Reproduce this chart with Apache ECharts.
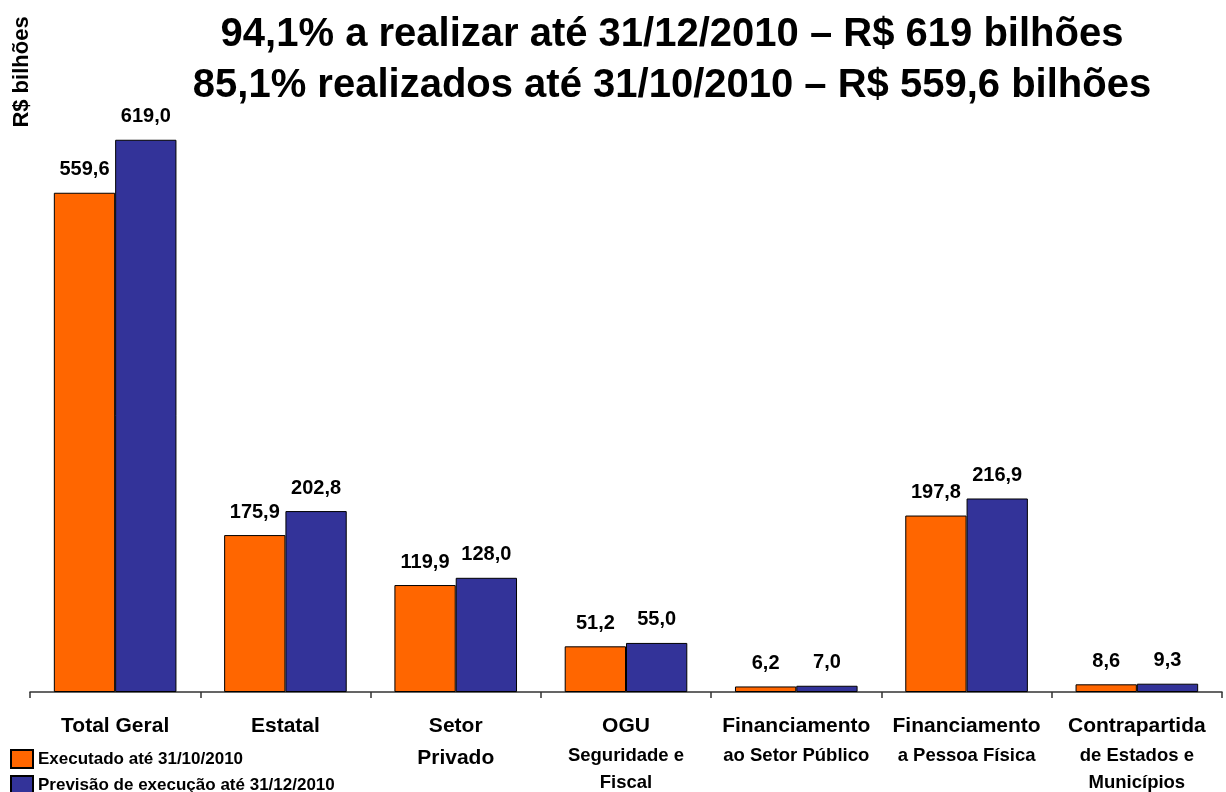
<!DOCTYPE html>
<html>
<head>
<meta charset="utf-8">
<script src="https://cdn.jsdelivr.net/npm/echarts@6/dist/echarts.min.js"></script>
<style>
  html, body { margin: 0; padding: 0; background: #fff; }
  #chart { width: 1226px; height: 792px; }
</style>
</head>
<body>
<div id="chart"></div>
<script>
// categories: main line (large) and sub line (small)
const catMain = ['Total Geral', 'Estatal', 'Setor\nPrivado', 'OGU', 'Financiamento', 'Financiamento', 'Contrapartida'];
const catSub = ['', '', '', 'Seguridade e\nFiscal', 'ao Setor Público', 'a Pessoa Física', 'de Estados e\nMunicípios'];

const executado = [559.6, 175.9, 119.9, 51.2, 6.2, 197.8, 8.6];
const previsao = [619.0, 202.8, 128.0, 55.0, 7.0, 216.9, 9.3];

const seriesNames = ['Executado até 31/10/2010', 'Previsão de execução até 31/12/2010'];
const titleLines = [
  '94,1% a realizar até 31/12/2010 – R$ 619 bilhões',
  '85,1% realizados até 31/10/2010 – R$ 559,6 bilhões'
];

const FONT = "'Liberation Sans', Arial, sans-serif";

const chart = echarts.init(document.getElementById('chart'), null, { renderer: 'canvas' });

const fmtNum = v => v.toFixed(1).replace('.', ',');

const barLabel = {
  show: true,
  position: 'top',
  distance: 13,
  fontFamily: FONT,
  fontWeight: 'bold',
  fontSize: 20,
  color: '#000',
  formatter: p => fmtNum(p.value)
};

chart.setOption({
  animation: false,
  title: {
    text: titleLines.join('\n'),
    left: 672,
    top: 9,
    textAlign: 'center',
    padding: 0,
    textStyle: {
      fontFamily: FONT,
      fontWeight: 'bold',
      fontSize: 40,
      lineHeight: 51,
      color: '#000'
    }
  },
  graphic: [{
    type: 'text',
    x: 22,
    y: 72,
    rotation: Math.PI / 2,
    style: {
      text: 'R$ bilhões',
      fontFamily: FONT,
      fontWeight: 'bold',
      fontSize: 22,
      fill: '#000',
      align: 'center',
      verticalAlign: 'middle'
    }
  }],
  legend: {
    left: 10,
    top: 749,
    height: 60,
    orient: 'vertical',
    itemWidth: 22,
    itemHeight: 18,
    itemGap: 6,
    icon: 'rect',
    padding: 0,
    textStyle: {
      fontFamily: FONT,
      fontWeight: 'bold',
      fontSize: 17,
      color: '#000'
    },
    data: seriesNames
  },
  grid: {
    left: 30,
    right: 4,
    top: 67.5,
    bottom: 98,
    containLabel: false
  },
  xAxis: {
    type: 'category',
    data: catMain,
    axisLine: { lineStyle: { color: '#333', width: 1.5 } },
    axisTick: { show: true, length: 6, lineStyle: { color: '#333', width: 1.5 } },
    axisLabel: {
      margin: 18,
      interval: 0,
      formatter: (val, idx) => {
        const main = catMain[idx].split('\n').map(s => '{a|' + s + '}').join('\n');
        const sub = catSub[idx] ? '\n' + catSub[idx].split('\n').map(s => '{b|' + s + '}').join('\n') : '';
        return main + sub;
      },
      rich: {
        a: { fontFamily: FONT, fontWeight: 'bold', fontSize: 21, lineHeight: 32, color: '#000' },
        b: { fontFamily: FONT, fontWeight: 'bold', fontSize: 18.5, lineHeight: 27, color: '#000' }
      }
    }
  },
  yAxis: {
    type: 'value',
    min: 0,
    max: 700,
    show: false,
    splitLine: { show: false }
  },
  series: [
    {
      name: seriesNames[0],
      type: 'bar',
      data: executado,
      barGap: '0%',
      barCategoryGap: '28%',
      itemStyle: { color: '#FF6600', borderColor: '#000', borderWidth: 1 },
      label: barLabel
    },
    {
      name: seriesNames[1],
      type: 'bar',
      data: previsao,
      barGap: '0%',
      barCategoryGap: '28%',
      itemStyle: { color: '#333399', borderColor: '#000', borderWidth: 1 },
      label: barLabel
    }
  ]
});
</script>
</body>
</html>
